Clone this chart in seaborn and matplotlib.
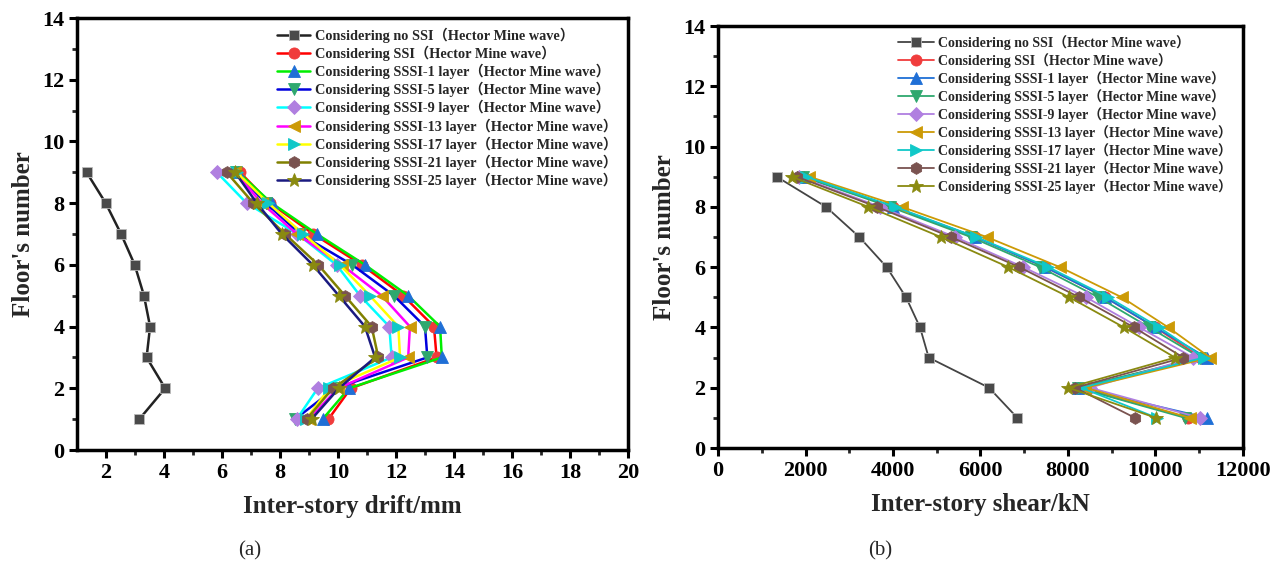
import matplotlib
matplotlib.use("Agg")
import matplotlib.pyplot as plt
import seaborn as sns
import numpy as np

sns.set_theme(style="white")
plt.rcParams['font.family'] = ['Liberation Serif', 'Noto Sans CJK SC']
plt.rcParams['font.weight'] = 'bold'
plt.rcParams['axes.labelweight'] = 'bold'

floors = [1, 2, 3, 4, 5, 6, 7, 8, 9]

labels = [
    "Considering no SSI（Hector Mine wave）",
    "Considering SSI（Hector Mine wave）",
    "Considering SSSI-1 layer（Hector Mine wave）",
    "Considering SSSI-5 layer（Hector Mine wave）",
    "Considering SSSI-9 layer（Hector Mine wave）",
    "Considering SSSI-13 layer（Hector Mine wave）",
    "Considering SSSI-17 layer（Hector Mine wave）",
    "Considering SSSI-21 layer（Hector Mine wave）",
    "Considering SSSI-25 layer（Hector Mine wave）",
]

# (a) inter-story drift (mm), floors 1..9
drift_no_ssi = [3.15, 4.04, 3.40, 3.52, 3.31, 2.99, 2.52, 1.99, 1.33]
drift_ssi    = [9.67, 10.44, 13.40, 13.31, 12.25, 10.82, 9.15, 7.66, 6.62]
drift_s1     = [9.47, 10.38, 13.58, 13.52, 12.42, 10.93, 9.27, 7.71, 6.56]
drift_s5     = [8.52, 9.90, 13.08, 13.00, 11.93, 10.49, 8.69, 7.52, 6.48]
drift_s9     = [8.58, 9.30, 11.85, 11.77, 10.76, 9.95, 8.60, 6.85, 5.82]
drift_s13    = [9.00, 10.00, 12.42, 12.48, 11.51, 10.13, 8.58, 7.37, 6.45]
drift_s17    = [8.90, 9.70, 12.14, 12.08, 11.10, 10.07, 8.80, 7.60, 6.50]
drift_s21    = [8.92, 9.82, 11.39, 11.16, 10.24, 9.32, 8.17, 7.08, 6.16]
drift_s25    = [9.09, 10.03, 11.28, 10.93, 10.03, 9.13, 8.06, 7.20, 6.45]

# (b) inter-story shear (kN), floors 1..9
shear_no_ssi = [6842, 6195, 4816, 4618, 4298, 3856, 3230, 2469, 1341]
shear_ssi    = [10750, 8250, 11050, 9990, 8850, 7480, 5880, 4000, 1950]
shear_s1     = [11186, 8230, 11171, 10000, 8850, 7480, 5880, 4010, 1960]
shear_s5     = [10680, 8220, 11018, 9860, 8694, 7361, 5777, 3932, 1940]
shear_s9     = [11018, 8500, 10866, 9631, 8412, 6980, 5418, 3703, 1850]
shear_s13    = [10790, 8400, 11247, 10294, 9229, 7818, 6142, 4199, 2087]
shear_s17    = [10035, 8300, 11110, 10088, 8923, 7551, 5898, 4046, 2012]
shear_s21    = [9533, 8161, 10637, 9510, 8260, 6888, 5320, 3628, 1799]
shear_s25    = [10013, 8008, 10447, 9281, 8031, 6637, 5091, 3436, 1684]

drift = [drift_no_ssi, drift_ssi, drift_s1, drift_s5, drift_s9,
         drift_s13, drift_s17, drift_s21, drift_s25]
shear = [shear_no_ssi, shear_ssi, shear_s1, shear_s5, shear_s9,
         shear_s13, shear_s17, shear_s21, shear_s25]

markers = ['s', 'o', '^', 'v', 'D', '<', '>', 'h', '*']
marker_colors = ['#4a4a4a', '#f03c3c', '#1f6fd6', '#2ea86e', '#b07fe0',
                 '#cc9a06', '#10c8c8', '#7a5350', '#8a8a10']
line_colors_a = ['#222222', '#ff0000', '#00ee00', '#0000dd', '#00ffff',
                 '#ff00ff', '#ffff00', '#808000', '#1a1a80']
line_colors_b = ['#444444', '#f03c3c', '#1f6fd6', '#2ea86e', '#b07fe0',
                 '#cc9a06', '#10c8c8', '#7a5350', '#8a8a10']
msizes = [7.5, 8, 8.5, 8.5, 7.5, 8.5, 8.5, 8.5, 10.5]

fig = plt.figure(figsize=(12.88, 5.70), dpi=100)
ax1 = fig.add_axes([77/1288, 120/570, 551/1288, 432/570])
ax2 = fig.add_axes([718/1288, 122/570, 525/1288, 422/570])

for ax, data, lcols, lw in [(ax1, drift, line_colors_a, 1.8), (ax2, shear, line_colors_b, 1.3)]:
    for i in range(9):
        sns.lineplot(x=data[i], y=floors, ax=ax, sort=False, estimator=None,
                     color=lcols[i], linewidth=lw, marker=markers[i],
                     markersize=msizes[i], markerfacecolor=marker_colors[i],
                     markeredgecolor=marker_colors[i] if i else '#bbbbbb',
                     markeredgewidth=0.6, label=labels[i])

ax1.set_xlim(1, 20)
ax1.set_xticks(np.arange(2, 21, 2))
ax1.set_xticks(np.arange(3, 20, 2), minor=True)
ax2.set_xlim(0, 12000)
ax2.set_xticks(np.arange(0, 12001, 2000))
ax2.set_xticks(np.arange(1000, 12000, 2000), minor=True)

for ax in (ax1, ax2):
    ax.set_ylim(0, 14)
    ax.set_yticks(np.arange(0, 15, 2))
    ax.set_yticks(np.arange(1, 14, 2), minor=True)
    for s in ax.spines.values():
        s.set_linewidth(2.5)
        s.set_color('black')
    ax.tick_params(axis='both', which='major', direction='out', length=6, width=2.2,
                   labelsize=16, bottom=True, left=True, top=False, right=False,
                   colors='black', pad=3)
    ax.tick_params(axis='both', which='minor', direction='out', length=3.5, width=2,
                   bottom=True, left=True, top=False, right=False)
    for lab in ax.get_xticklabels() + ax.get_yticklabels():
        lab.set_fontweight('bold')
    ax.set_ylabel("Floor's number", fontsize=18, fontweight='bold', labelpad=5)
    ax.grid(False)

ax1.set_xlabel("Inter-story drift/mm", fontsize=18, fontweight='bold', labelpad=9)
ax2.set_xlabel("Inter-story shear/kN", fontsize=18, fontweight='bold', labelpad=9)

leg1 = ax1.legend(loc='upper right', bbox_to_anchor=(0.995, 0.998), frameon=False,
                  fontsize=10.3, handlelength=2.3, labelspacing=0.2,
                  handletextpad=0.3, borderaxespad=0.2)
leg2 = ax2.legend(loc='upper right', bbox_to_anchor=(0.995, 0.998), frameon=False,
                  fontsize=10.0, handlelength=2.6, labelspacing=0.22,
                  handletextpad=0.3, borderaxespad=0.2)
for leg in (leg1, leg2):
    for t in leg.get_texts():
        t.set_fontweight('bold')

fig.text(250/1288, 1 - 551/570, "(a)", fontsize=15, fontweight='normal',
         ha='center', va='center')
fig.text(880/1288, 1 - 551/570, "(b)", fontsize=15, fontweight='normal',
         ha='center', va='center')

fig.savefig("out.png", dpi=100)
